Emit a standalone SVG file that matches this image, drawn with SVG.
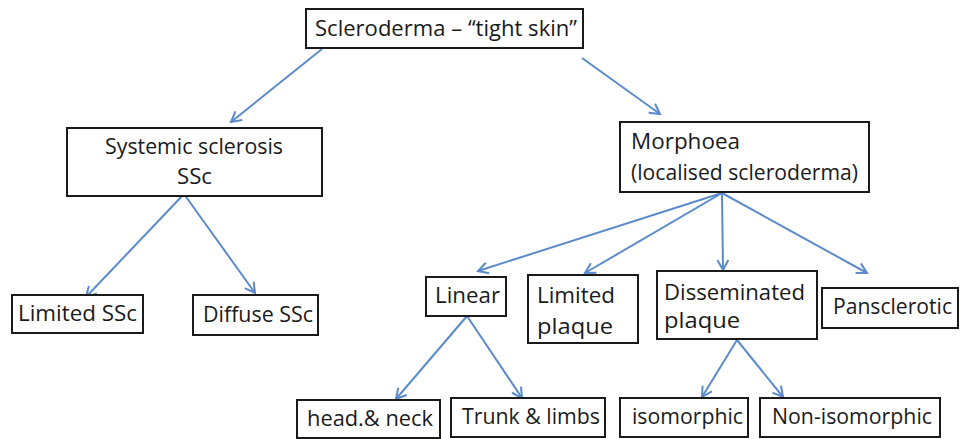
<svg xmlns="http://www.w3.org/2000/svg" width="962" height="439" viewBox="0 0 962 439">
<defs>
<marker id="arr" markerUnits="userSpaceOnUse" markerWidth="14" markerHeight="14" viewBox="0 0 14 14" refX="12" refY="7" orient="auto">
<path d="M2,1.5 L12,7 L2,12.5" fill="none" stroke="#5b8bcb" stroke-width="2"/>
</marker>
<style>
.box{fill:#fff;stroke:#1a1a1a;stroke-width:2}
.t{font-family:"Open Sans","DejaVu Sans",sans-serif;font-size:21px;fill:#1a1a1a}
.c line{stroke:#5b8bcb;stroke-width:2;marker-end:url(#arr)}
</style>
</defs>
<rect width="962" height="439" fill="#fff"/>
<g class="c" id="connectors">
<line x1="322" y1="49" x2="231" y2="122"/>
<line x1="582" y1="58" x2="660" y2="114"/>
<line x1="184" y1="194" x2="86" y2="297"/>
<line x1="184" y1="194" x2="255" y2="293"/>
<line x1="722" y1="193" x2="478" y2="271"/>
<line x1="722" y1="193" x2="585" y2="273"/>
<line x1="722" y1="193" x2="723" y2="270"/>
<line x1="722" y1="193" x2="867" y2="273"/>
<line x1="467" y1="316" x2="396" y2="399"/>
<line x1="467" y1="316" x2="522" y2="398"/>
<line x1="737" y1="340" x2="702" y2="397"/>
<line x1="737" y1="340" x2="783" y2="397"/>
</g>
<g id="scleroderma"><rect class="box" x="306" y="9" width="277" height="39"/><text class="t" x="315" y="36" textLength="262" lengthAdjust="spacingAndGlyphs">Scleroderma – “tight skin”</text></g>
<g id="systemic"><rect class="box" x="67" y="128" width="255" height="68"/><text class="t" x="105" y="154" textLength="178" lengthAdjust="spacingAndGlyphs">Systemic sclerosis</text><text class="t" x="177" y="184" textLength="35" lengthAdjust="spacingAndGlyphs">SSc</text></g>
<g id="morphoea"><rect class="box" x="620" y="122" width="249" height="70"/><text class="t" x="631" y="149" textLength="109" lengthAdjust="spacingAndGlyphs">Morphoea</text><text class="t" x="631" y="180" textLength="227" lengthAdjust="spacingAndGlyphs">(localised scleroderma)</text></g>
<g id="limited-ssc"><rect class="box" x="12" y="295" width="131" height="38"/><text class="t" x="18" y="321" textLength="119" lengthAdjust="spacingAndGlyphs">Limited SSc</text></g>
<g id="diffuse-ssc"><rect class="box" x="193" y="295" width="125" height="40"/><text class="t" x="203" y="322" textLength="110" lengthAdjust="spacingAndGlyphs">Diffuse SSc</text></g>
<g id="linear"><rect class="box" x="426" y="277" width="80" height="39"/><text class="t" x="435" y="303" textLength="65" lengthAdjust="spacingAndGlyphs">Linear</text></g>
<g id="limited-plaque"><rect class="box" x="528" y="275" width="110" height="68"/><text class="t" x="537" y="303" textLength="78" lengthAdjust="spacingAndGlyphs">Limited</text><text class="t" x="537" y="334" textLength="76" lengthAdjust="spacingAndGlyphs">plaque</text></g>
<g id="disseminated"><rect class="box" x="657" y="271" width="160" height="68"/><text class="t" x="664" y="300" textLength="141" lengthAdjust="spacingAndGlyphs">Disseminated</text><text class="t" x="664" y="328" textLength="76" lengthAdjust="spacingAndGlyphs">plaque</text></g>
<g id="pansclerotic"><rect class="box" x="822" y="288" width="136" height="40"/><text class="t" x="833" y="314" textLength="119" lengthAdjust="spacingAndGlyphs">Pansclerotic</text></g>
<g id="head-neck"><rect class="box" x="297" y="400" width="143" height="38"/><text class="t" x="307" y="426" textLength="126" lengthAdjust="spacingAndGlyphs">head.&amp; neck</text></g>
<g id="trunk-limbs"><rect class="box" x="451" y="398" width="154" height="39"/><text class="t" x="462" y="424" textLength="138" lengthAdjust="spacingAndGlyphs">Trunk &amp; limbs</text></g>
<g id="isomorphic"><rect class="box" x="620" y="398" width="128" height="39"/><text class="t" x="632" y="424" textLength="111" lengthAdjust="spacingAndGlyphs">isomorphic</text></g>
<g id="non-isomorphic"><rect class="box" x="760" y="398" width="180" height="39"/><text class="t" x="772" y="424" textLength="160" lengthAdjust="spacingAndGlyphs">Non-isomorphic</text></g>
</svg>
